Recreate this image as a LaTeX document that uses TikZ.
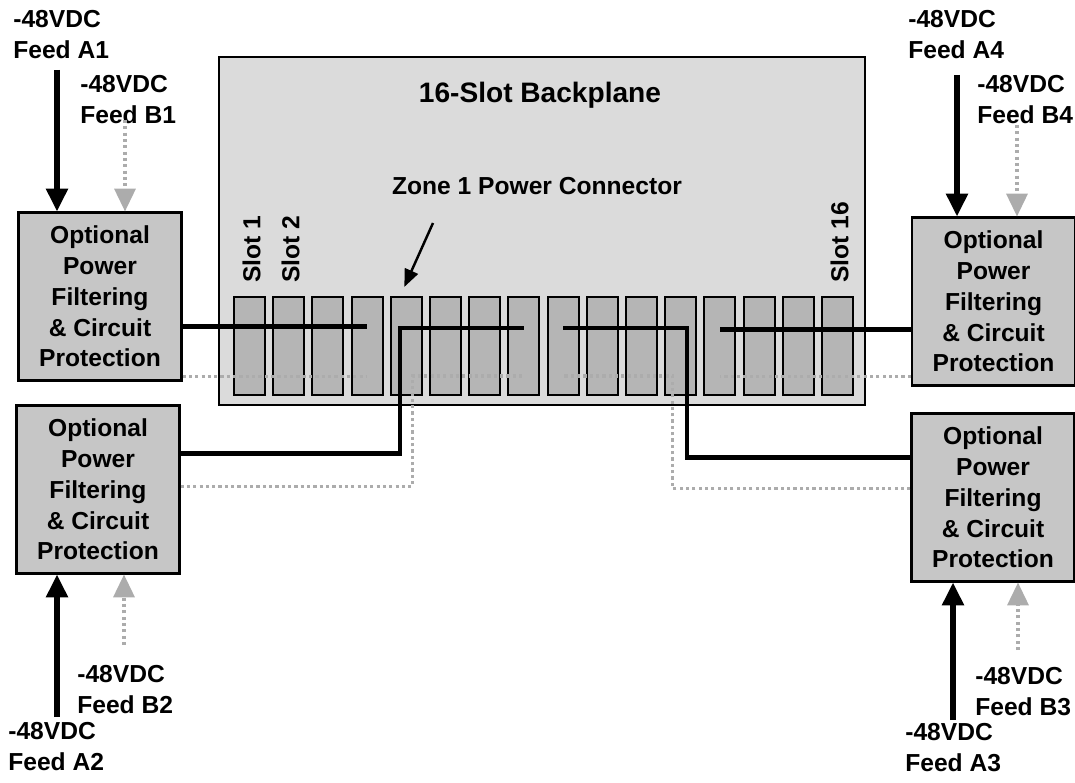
\documentclass[tikz,border=0pt]{standalone}
\usepackage{fontspec}
\setmainfont{Liberation Sans}
\usetikzlibrary{arrows.meta,calc,positioning}

\begin{document}
\begin{tikzpicture}[x=0.02cm, y=-0.02cm,
  every node/.style={font=\bfseries\fontsize{14}{17.5}\selectfont, inner sep=0pt},
  filterbox/.style={draw, line width=1.2pt, fill=gray!45, minimum width=3.26cm, minimum height=3.36cm, align=center},
  slotbox/.style={draw, line width=1.2pt, fill=gray!58, minimum width=0.62cm, minimum height=1.96cm},
  feedlabel/.style={anchor=north west, align=left},
  feedA/.style={line width=3pt, -{Triangle[length=13pt,width=12pt]}},
  feedB/.style={line width=1.8pt, gray!65, dash pattern=on 1.8pt off 1.8pt, -{Triangle[length=13pt,width=12pt]}},
  powerA/.style={line width=2.4pt},
  powerB/.style={line width=1.8pt, gray!65, dash pattern=on 1.8pt off 1.8pt}]
\useasboundingbox (0,0) rectangle (1075,783);

% Backplane
\node[draw, line width=1.2pt, fill=gray!28, minimum width=12.92cm, minimum height=6.96cm] (bp) at (542,231) {};
\node[font=\bfseries\fontsize{16}{19}\selectfont] (title) at (540,95) {16-Slot Backplane};
\node (zonelbl) at (537,186) {Zone 1 Power Connector};

% Slots (16 connectors)
\foreach \i in {1,...,16} {
  \node[slotbox] (s\i) at ({249.5+(\i-1)*39.2},346) {};
}
\foreach \i in {1,2,16} {
  \node[rotate=90, anchor=west] (slotlbl\i) at ($(s\i.north)+(2,-13)$) {Slot \i};
}
\coordinate (zonetail) at (433,223);
\draw[line width=1.4pt, -{Triangle[length=10pt,width=8pt]}] (zonetail) -- ($(s5.north)+(-2,-9)$);

% Filter boxes
\node[filterbox] (filt1) at (100,296.5) {Optional\\Power\\Filtering\\\& Circuit\\Protection};
\node[filterbox] (filt2) at (98,489.5) {Optional\\Power\\Filtering\\\& Circuit\\Protection};
\node[filterbox] (filt3) at (993,497.5) {Optional\\Power\\Filtering\\\& Circuit\\Protection};
\node[filterbox] (filt4) at (993.5,301.5) {Optional\\Power\\Filtering\\\& Circuit\\Protection};

% Feed A wiring (solid)
\draw[powerA] (filt1.east) ++(0,30) coordinate (p1) -- (p1 -| s4);
\draw[powerA] (filt2.east) ++(0,-36) -| ($(s5)+(-6,-18)$) -- ($(s8)+(0,-18)$);
\draw[powerA] (filt3.west) ++(0,-40) -| ($(s12)+(6,-18)$) -- ($(s9)+(0,-18)$);
\draw[powerA] (filt4.west) ++(0,28) coordinate (p4) -- (p4 -| s13);

% Feed B wiring (dotted)
\draw[powerB] (filt1.east) ++(0,80) coordinate (q1) -- (q1 -| s4);
\draw[powerB] (filt2.east) ++(0,-3) -| ($(s5)+(6,30)$) -- ($(s8)+(0,30)$);
\draw[powerB] (filt3.west) ++(0,-9) -| ($(s12)+(-8,30)$) -- ($(s9)+(0,30)$);
\draw[powerB] (filt4.west) ++(0,75) coordinate (q4) -- (q4 -| s13);

% -48VDC feeds
\foreach \n/\x/\y in {A1/13/10, B1/80/75, A4/908/10, B4/977/75,
                      B2/77/665, A2/8/722, B3/975/667, A3/905/723} {
  \node[feedlabel] (lbl\n) at (\x,\y) {-48VDC\\Feed \n};
}
\foreach \n/\x/\y/\b/\s in {
  A1/57/70/filt1.north/feedA,
  B1/125/120/filt1.north/feedB,
  A4/957/75/filt4.north/feedA,
  B4/1017/125/filt4.north/feedB,
  A2/57/717/filt2.south/feedA,
  B2/124/645/filt2.south/feedB,
  A3/953/720/filt3.south/feedA,
  B3/1018/650/filt3.south/feedB} {
  \coordinate (src\n) at (\x,\y);
  \draw[\s] (src\n) -- (src\n |- \b);
}
\end{tikzpicture}
\end{document}
